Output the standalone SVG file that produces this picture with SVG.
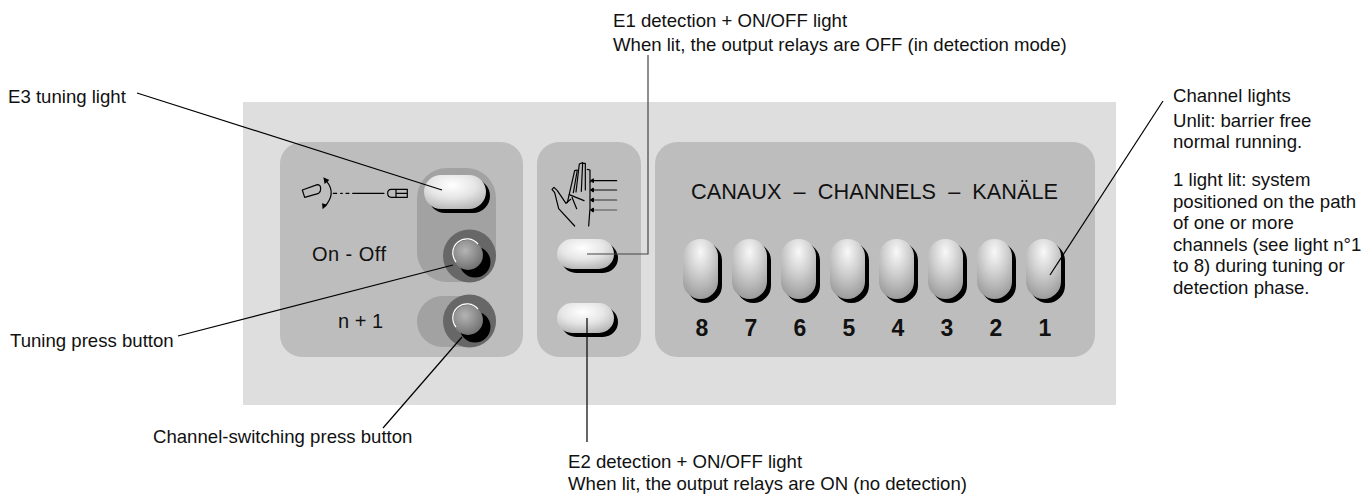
<svg xmlns="http://www.w3.org/2000/svg" width="1361" height="494" viewBox="0 0 1361 494">
  <defs>
    <radialGradient id="pillWhite" cx="0.45" cy="0.3" r="0.75">
      <stop offset="0" stop-color="#ffffff"/>
      <stop offset="0.5" stop-color="#e6e6e6"/>
      <stop offset="1" stop-color="#b4b4b4"/>
    </radialGradient>
    <radialGradient id="pillChan" cx="0.5" cy="0.22" r="0.8">
      <stop offset="0" stop-color="#f8f8f8"/>
      <stop offset="0.45" stop-color="#d0d0d0"/>
      <stop offset="1" stop-color="#9a9a9a"/>
    </radialGradient>
    <radialGradient id="ball" cx="0.4" cy="0.35" r="0.7">
      <stop offset="0" stop-color="#b4b4b4"/>
      <stop offset="1" stop-color="#6e6e6e"/>
    </radialGradient>
  </defs>
  <style>
    text { font-family: "Liberation Sans", Arial, Helvetica, sans-serif; fill: #111; }
    .lbl { font-size: 18.6px; }
    .pan { font-size: 20px; }
    .num { font-size: 23px; font-weight: bold; text-anchor: middle; }
    .lead { stroke: #000; stroke-width: 1.2; fill: none; }
    .ico { fill: none; stroke: #000; stroke-width: 3.6; stroke-linecap: round; stroke-linejoin: round; }
    .shadow { fill: #000; }
  </style>

  <!-- housing -->
  <rect x="243" y="102" width="873" height="303" fill="#dedede"/>

  <!-- tuning panel -->
  <g id="tuning-panel">
    <rect x="280" y="142" width="243" height="215" rx="22" fill="#bdbdbd"/>
    <rect x="417" y="168" width="79" height="114" rx="30" fill="#a2a2a2"/>
    <rect x="417" y="296" width="79" height="51" rx="25.5" fill="#a2a2a2"/>
    <!-- tuning symbol: emitter, swivel arrows, beam, receiver -->
    <g transform="translate(290 170) scale(0.3333)">
      <path class="ico" d="M37 60 L82 44 Q92 44 92 56 Q92 66 86 70 L44 82 Z"/>
      <path class="ico" d="M110 34 Q140 70 104 110"/>
      <path d="M100 22 L118 30 L104 42 Z" fill="#000"/>
      <path d="M112 104 L98 118 L96 100 Z" fill="#000"/>
      <path class="ico" d="M130 70 H140 M152 70 H157 M168 70 H177 M188 70 H282"/>
      <path class="ico" d="M352 58 H304 Q293 58 293 70 Q293 82 304 82 H352 Z M318 58 V82 M318 70 H352"/>
    </g>
    <text class="pan" x="312" y="261" textLength="74">On - Off</text>
    <text class="pan" x="338" y="328">n + 1</text>
  </g>

  <g id="e3-light">
    <rect class="shadow" x="428" y="179" width="62" height="34" rx="17"/>
    <rect x="424" y="175" width="62" height="34" rx="17" fill="url(#pillWhite)"/>
  </g>

  <g id="onoff-button">
    <circle cx="469.5" cy="256" r="26.5" fill="#676767"/>
    <circle cx="475" cy="262" r="15.5" fill="#000"/>
    <circle cx="468" cy="255" r="15" fill="url(#ball)"/>
    <path d="M456 262 A14 14 0 0 1 478 244" fill="none" stroke="#fff" stroke-width="1.2"/>
  </g>

  <g id="n1-button">
    <circle cx="469.5" cy="321" r="26.5" fill="#676767"/>
    <circle cx="475" cy="327" r="15.5" fill="#000"/>
    <circle cx="468" cy="320" r="15" fill="url(#ball)"/>
    <path d="M456 327 A14 14 0 0 1 478 309" fill="none" stroke="#fff" stroke-width="1.2"/>
  </g>

  <!-- detection panel -->
  <g id="detection-panel">
    <rect x="537" y="142" width="104" height="215" rx="22" fill="#bdbdbd"/>
    <!-- hand crossing the beams -->
    <g transform="translate(540 150) scale(0.3333)" fill="none" stroke="#000" stroke-width="3.6" stroke-linecap="round" stroke-linejoin="round">
      <path d="M82 158 L104 62 L112 60 L100 128"/>
      <path d="M108 126 L118 42 L128 38 L124 124"/>
      <path d="M128 40 L136 40 L136 120"/>
      <path d="M142 58 L150 60 L150 96"/>
      <path d="M150 96 L150 176 L146 228"/>
      <path d="M104 228 L56 176 L44 128 L36 118 L42 112 L52 122 L78 160 L92 148"/>
      <path d="M88 134 L132 152"/>
      <path d="M96 142 L110 176"/>
      <path d="M230 92 H156" stroke="#000"/>
      <path d="M230 120 H156" stroke="#111"/>
      <path d="M230 150 H156" stroke="#333"/>
      <path d="M230 180 H156" stroke="#555"/>
      <path d="M152 92 l8 -5 v10 Z M152 120 l8 -5 v10 Z M152 150 l8 -5 v10 Z M152 180 l8 -5 v10 Z" fill="#000"/>
    </g>
  </g>

  <g id="e1-light">
    <rect class="shadow" x="561" y="243" width="57" height="30" rx="15"/>
    <rect x="557" y="239" width="57" height="30" rx="15" fill="url(#pillWhite)"/>
  </g>

  <g id="e2-light">
    <rect class="shadow" x="561" y="307" width="57" height="30" rx="15"/>
    <rect x="557" y="303" width="57" height="30" rx="15" fill="url(#pillWhite)"/>
  </g>

  <!-- channel panel -->
  <g id="channel-panel">
    <rect x="655" y="142" width="440" height="215" rx="22" fill="#bdbdbd"/>
    <text x="691" y="199" style="font-size:21.7px; white-space:pre" textLength="367">CANAUX  –  CHANNELS  –  KANÄLE</text>
  </g>

  <g id="channel-lights">
    <g id="ch8"><rect class="shadow" x="687" y="243" width="35" height="60" rx="17.5"/><rect x="683" y="239" width="35" height="60" rx="17.5" fill="url(#pillChan)"/><text class="num" x="702" y="336">8</text></g>
    <g id="ch7"><rect class="shadow" x="736" y="243" width="35" height="60" rx="17.5"/><rect x="732" y="239" width="35" height="60" rx="17.5" fill="url(#pillChan)"/><text class="num" x="751" y="336">7</text></g>
    <g id="ch6"><rect class="shadow" x="785" y="243" width="35" height="60" rx="17.5"/><rect x="781" y="239" width="35" height="60" rx="17.5" fill="url(#pillChan)"/><text class="num" x="800" y="336">6</text></g>
    <g id="ch5"><rect class="shadow" x="834" y="243" width="35" height="60" rx="17.5"/><rect x="830" y="239" width="35" height="60" rx="17.5" fill="url(#pillChan)"/><text class="num" x="849" y="336">5</text></g>
    <g id="ch4"><rect class="shadow" x="883" y="243" width="35" height="60" rx="17.5"/><rect x="879" y="239" width="35" height="60" rx="17.5" fill="url(#pillChan)"/><text class="num" x="898" y="336">4</text></g>
    <g id="ch3"><rect class="shadow" x="932" y="243" width="35" height="60" rx="17.5"/><rect x="928" y="239" width="35" height="60" rx="17.5" fill="url(#pillChan)"/><text class="num" x="947" y="336">3</text></g>
    <g id="ch2"><rect class="shadow" x="981" y="243" width="35" height="60" rx="17.5"/><rect x="977" y="239" width="35" height="60" rx="17.5" fill="url(#pillChan)"/><text class="num" x="996" y="336">2</text></g>
    <g id="ch1"><rect class="shadow" x="1030" y="243" width="35" height="60" rx="17.5"/><rect x="1026" y="239" width="35" height="60" rx="17.5" fill="url(#pillChan)"/><text class="num" x="1045" y="336">1</text></g>
  </g>

  <!-- leader lines -->
  <g id="connectors">
    <line class="lead" x1="137" y1="93" x2="442" y2="190"/>
    <line class="lead" x1="178" y1="336" x2="453" y2="265"/>
    <line class="lead" x1="383" y1="428" x2="462" y2="337"/>
    <polyline class="lead" style="stroke:#444" points="587,254 648,254 648,55"/>
    <line class="lead" x1="587" y1="318" x2="587" y2="442"/>
    <line class="lead" x1="1163" y1="101" x2="1050" y2="275"/>
  </g>

  <!-- labels -->
  <g id="labels">
    <text class="lbl" x="8" y="103">E3 tuning light</text>
    <text class="lbl" x="10" y="347">Tuning press button</text>
    <text class="lbl" x="153" y="443">Channel-switching press button</text>
    <text class="lbl" x="613" y="27">E1 detection + ON/OFF light</text>
    <text class="lbl" x="613" y="51">When lit, the output relays are OFF (in detection mode)</text>
    <text class="lbl" x="568" y="468">E2 detection + ON/OFF light</text>
    <text class="lbl" x="568" y="490">When lit, the output relays are ON (no detection)</text>
    <text class="lbl" x="1173" y="102">Channel lights</text>
    <text class="lbl" x="1173" y="127">Unlit: barrier free</text>
    <text class="lbl" x="1173" y="148">normal running.</text>
    <text class="lbl" x="1173" y="186">1 light lit: system</text>
    <text class="lbl" x="1173" y="208">positioned on the path</text>
    <text class="lbl" x="1173" y="229">of one or more</text>
    <text class="lbl" x="1173" y="251">channels (see light n°1</text>
    <text class="lbl" x="1173" y="272">to 8) during tuning or</text>
    <text class="lbl" x="1173" y="294">detection phase.</text>
  </g>
</svg>
